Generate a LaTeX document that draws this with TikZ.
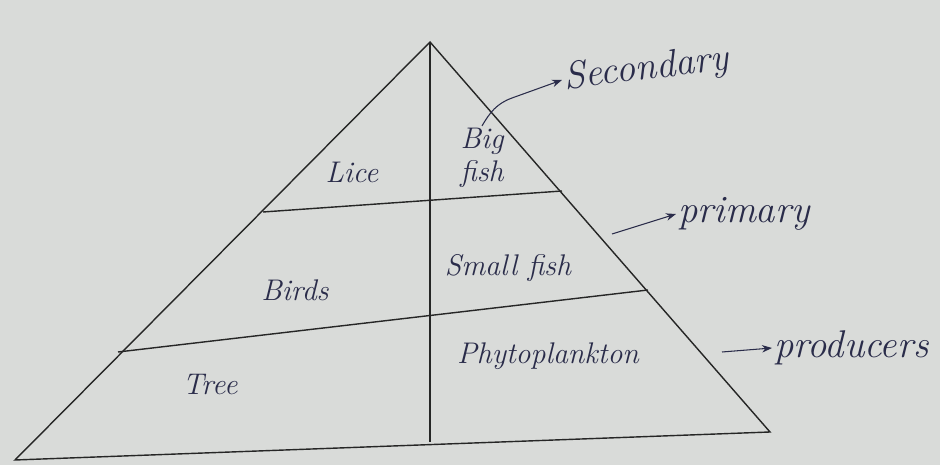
\documentclass[tikz,border=0pt]{standalone}
\usepackage{xcolor}
\usepackage{tikz}
\usetikzlibrary{positioning,arrows.meta,calc}
\definecolor{paper}{HTML}{D9DBD9}
\definecolor{ink}{HTML}{2A2C4A}
\tikzset{
  edge/.style={thick,black!85},
  tier/.style={font=\fontsize{17}{19}\selectfont\itshape,text=ink,align=center,inner sep=1pt},
  level/.style={font=\fontsize{22}{24}\selectfont\itshape,text=ink,inner sep=1pt},
  levelarrow/.style={->,>=Stealth,semithick,ink},
}

\begin{document}
\begin{tikzpicture}[x=0.02cm,y=-0.02cm]
  % Paper
  \fill[paper] (0,0) rectangle (940,465);
  \useasboundingbox (0,0) rectangle (940,465);
  % Pyramid corners
  \coordinate (apex) at (430,42);
  \coordinate (bl) at (15,460);
  \coordinate (br) at (770,432);
  \coordinate (bm) at (430,442);
  % Tier lines
  \coordinate (l1) at (263,212);
  \coordinate (r1) at (562,191);
  \coordinate (l2) at (118,352);
  \coordinate (r2) at (648,290);
  \draw[edge] (bl) -- (apex) -- (br) -- cycle;
  \draw[edge] (apex) -- (bm);
  \draw[edge] (l1) -- (r1);
  \draw[edge] (l2) -- (r2);
  % Tier labels
  \node[tier] (lice) at (352,172) {Lice};
  \node[tier] (bigfish) at (482,158) {Big\\fish};
  \node[tier] (birds) at (295,290) {Birds};
  \node[tier] (smallfish) at (508,268) {Small fish};
  \node[tier] (tree) at (210,385) {Tree};
  \node[tier] (phyto) at (548,356) {Phytoplankton};
  % Trophic levels
  \node[level,rotate=7,anchor=west] (secondary) at (562,80) {Secondary};
  \node[level,anchor=west] (primary) at (676,214) {primary};
  \node[level,anchor=west] (producers) at (772,348) {producers};
  \coordinate (sbend) at (512,98);
  \coordinate (pstart) at (612,234);
  \coordinate (prstart) at (722,352);
  \draw[levelarrow] (bigfish.north) to[out=60,in=200] (sbend) -- (secondary.west);
  \draw[levelarrow] (pstart) -- (primary.west);
  \draw[levelarrow] (prstart) -- (producers.west);
\end{tikzpicture}
\end{document}
